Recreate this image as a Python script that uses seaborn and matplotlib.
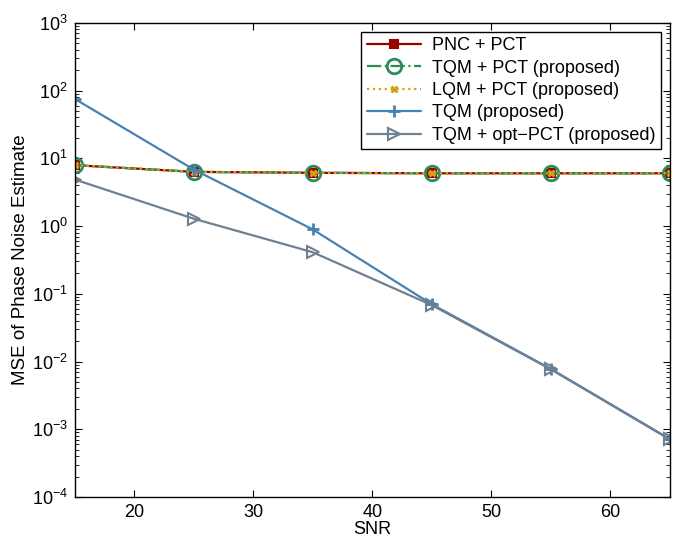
import numpy as np
import pandas as pd
import matplotlib
matplotlib.use("Agg")
import matplotlib.pyplot as plt
import seaborn as sns
from matplotlib.ticker import FixedLocator, NullFormatter

# SNR points
snr = [15, 25, 35, 45, 55, 65]

# MSE of phase noise estimate for each scheme
pnc_pct = [7.9, 6.3, 6.1, 6.0, 6.0, 6.0]
tqm_pct = [7.9, 6.3, 6.1, 6.0, 6.0, 6.0]
lqm_pct = [7.9, 6.3, 6.1, 6.0, 6.0, 6.0]
tqm = [75.0, 6.8, 0.89, 0.07, 0.0078, 0.00072]
tqm_opt = [4.85, 1.28, 0.41, 0.068, 0.0077, 0.00071]

labels = ["PNC + PCT", "TQM + PCT (proposed)", "LQM + PCT (proposed)",
          "TQM (proposed)", "TQM + opt\u2212PCT (proposed)"]
y_major = [1e-4, 1e-3, 1e-2, 1e-1, 1e0, 1e1, 1e2, 1e3]

sns.set_style("ticks")
plt.rcParams['font.family'] = ['Liberation Sans', 'DejaVu Sans']
plt.rcParams['mathtext.fontset'] = 'custom'
plt.rcParams['mathtext.rm'] = 'Liberation Sans'
plt.rcParams['xtick.direction'] = 'in'
plt.rcParams['ytick.direction'] = 'in'
plt.rcParams['text.color'] = 'black'
plt.rcParams['axes.labelcolor'] = 'black'

df = pd.DataFrame({
    "SNR": snr * 5,
    "MSE": pnc_pct + tqm_pct + lqm_pct + tqm + tqm_opt,
    "Scheme": np.repeat(labels, len(snr)),
})

# line styles per scheme
styles = {
    labels[0]: dict(color="#990000", ls="-", marker="s", ms=6, mfc="#990000", mec="#990000", mew=1.5),
    labels[1]: dict(color="#2e8b57", ls="-.", marker="o", ms=10.5, mfc="none", mec="#2e8b57", mew=2),
    labels[2]: dict(color="#d4a017", ls=":", marker="x", ms=5, mfc="none", mec="#d4a017", mew=2),
    labels[3]: dict(color="#4682b4", ls="-", marker="+", ms=8, mfc="none", mec="#4682b4", mew=2),
    labels[4]: dict(color="#708090", ls="-", marker=">", ms=9, mfc="none", mec="#708090", mew=1.5),
}

fig = plt.figure(figsize=(6.75, 5.42), dpi=100)
ax = fig.add_axes([0.111, 0.083, 0.881, 0.875])

for name in labels:
    st = styles[name]
    sns.lineplot(data=df[df["Scheme"] == name], x="SNR", y="MSE", ax=ax,
                 color=st["color"], linestyle=st["ls"], linewidth=1.6,
                 marker=st["marker"], markersize=st["ms"],
                 markerfacecolor=st["mfc"], markeredgecolor=st["mec"],
                 markeredgewidth=st["mew"], label=name)

ax.set_yscale("log")
ax.set_xlim(15, 65)
ax.set_ylim(1e-4, 1e3)
ax.set_xticks([20, 30, 40, 50, 60])
ax.set_yticks(y_major)
minor = [m * d for d in y_major[:-1] for m in range(2, 10)]
ax.yaxis.set_minor_locator(FixedLocator(minor))
ax.yaxis.set_minor_formatter(NullFormatter())
ax.tick_params(which="both", top=True, right=True, labelsize=13, color="black",
               labelcolor="black", pad=5)
ax.tick_params(which="major", length=5)
ax.tick_params(which="minor", length=3)
for sp in ax.spines.values():
    sp.set_color("black")
    sp.set_linewidth(1.0)

ax.set_xlabel("SNR", fontsize=13, labelpad=0)
ax.set_ylabel("MSE of Phase Noise Estimate", fontsize=13.5, labelpad=2)

leg = ax.legend(loc="upper right", fontsize=13, frameon=True, fancybox=False,
                framealpha=1, edgecolor="black", handlelength=3,
                borderaxespad=0.5, labelspacing=0.3, borderpad=0.3,
                handletextpad=0.6)
leg.get_frame().set_linewidth(1.0)

fig.savefig("out.png", dpi=100)
